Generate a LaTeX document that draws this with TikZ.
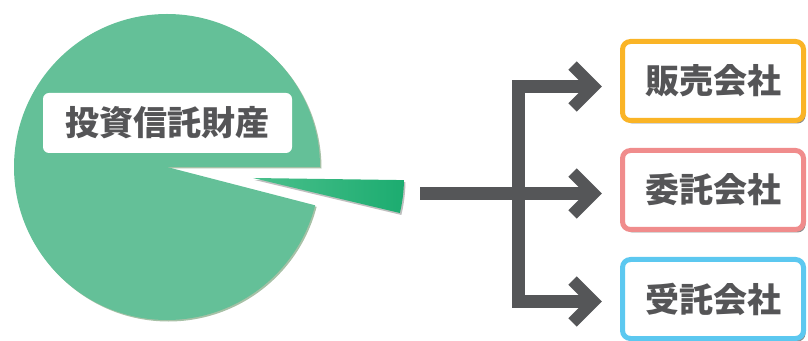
\documentclass[tikz,border=0pt]{standalone}
\usepackage{fontspec}
\newfontfamily\cjk{Noto Sans CJK JP}
\usetikzlibrary{shadows}
\definecolor{piegreen}{RGB}{100,192,152}
\definecolor{slicelight}{RGB}{75,192,140}
\definecolor{slicedark}{RGB}{28,172,112}
\definecolor{txtgray}{RGB}{85,85,87}
\definecolor{arrowgray}{RGB}{85,86,88}
\definecolor{borderorange}{RGB}{250,180,38}
\definecolor{borderpink}{RGB}{240,140,140}
\definecolor{borderblue}{RGB}{92,200,240}
\tikzset{
  jtext/.style={font=\cjk\bfseries\fontsize{34}{34}\selectfont, text=txtgray},
  labelbox/.style={jtext, fill=white, rounded corners=6pt, minimum width=249pt, minimum height=60pt, inner sep=0pt},
  companybox/.style={jtext, fill=white, line width=5pt, rounded corners=8pt, minimum width=181pt, minimum height=79pt, inner sep=0pt,
    drop shadow={shadow xshift=2pt, shadow yshift=-3pt, fill=black, opacity=0.45}},
  arrowline/.style={draw=arrowgray, line width=13pt, line join=miter, line cap=butt},
  chevron/.style={draw=arrowgray, line width=12pt, line join=miter, line cap=butt},
}
\begin{document}
\begin{tikzpicture}[x=1pt,y=1pt]
\useasboundingbox (0,0) rectangle (808,340);
% pie body
\fill[piegreen, drop shadow={shadow xshift=1.5pt, shadow yshift=-1.5pt, fill=black!70!green, opacity=0.35}]
  (167,173) -- ++(0:153) arc[start angle=0, end angle=345.5, radius=153] -- cycle;
% exploded slice
\shade[left color=slicelight, right color=slicedark, drop shadow={shadow xshift=1.5pt, shadow yshift=-2pt, fill=black, opacity=0.25}]
  (253,162) -- ++(-0.8:151) arc[start angle=-0.8, end angle=-13.4, radius=151] -- cycle;
% label
\node[labelbox] (lbl) at (167.5,217) {投資信託財産};
% boxes
\node[companybox, draw=borderorange] (b1) at (713,259) {販売会社};
\node[companybox, draw=borderpink] (b2) at (713,150) {委託会社};
\node[companybox, draw=borderblue] (b3) at (713,41) {受託会社};
% arrows
\coordinate (src) at (420,146.5);
\coordinate (trunk) at (518.5,146.5);
\coordinate (t1) at (593.5,253.5);
\coordinate (t2) at (593.5,146.5);
\coordinate (t3) at (593.5,38.5);
\draw[arrowline] (t1) -- (t1 -| trunk) -- (t3 -| trunk) -- (t3);
\draw[arrowline] (src) -- (t2);
\foreach \t in {t1,t2,t3}{
  \draw[chevron] ([xshift=-21pt,yshift=21pt]\t) -- (\t) -- ([xshift=-21pt,yshift=-21pt]\t);
}
\end{tikzpicture}
\end{document}
